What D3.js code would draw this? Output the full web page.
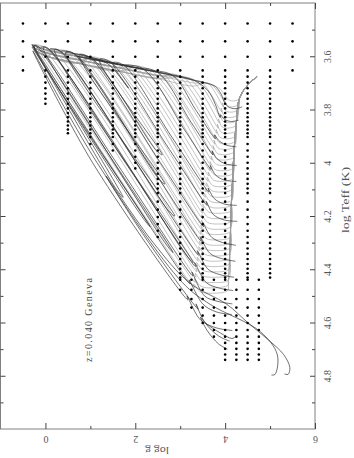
<!DOCTYPE html>
<html><head><meta charset="utf-8">
<script src="https://cdn.jsdelivr.net/npm/d3@7"></script>
<style>body{margin:0;background:#fff}svg{display:block}</style>
</head><body>
<script>
// ---- axis ticks ----
const teffMajor = [3.6, 3.8, 4.0, 4.2, 4.4, 4.6, 4.8];
const teffMinor = [3.5, 3.7, 3.9, 4.1, 4.3, 4.5, 4.7, 4.9];
const teffLabels = ["3.6", "3.8", "4", "4.2", "4.4", "4.6", "4.8"];
const loggMajor = [0, 2, 4, 6];
const loggMinor = [1, 3, 5];
const loggLabels = ["0", "2", "4", "6"];

// ---- model atmosphere grid (dots) ----
const gridLoggAll = [-0.5, 0, 0.5, 1, 1.5, 2, 2.5, 3, 3.5, 4, 4.5, 5, 5.5];
const gridTeffCool = [3000, 3500, 4000, 4500];
const gridLoggK = [0, 0.5, 1, 1.5, 2, 2.5, 3, 3.5, 4, 4.5, 5];
const gridTeffKMax = [6000, 7750, 8500, 9000, 10500, 19000, 27000, 27000, 27000, 27000, 27000];
const gridTeffK = [4750, 5000, 5250, 5500, 5750, 6000, 6250, 6500, 6750, 7000, 7250, 7500, 7750, 8000,
  8500, 9000, 9500, 10000, 10500, 11000, 11500, 12000, 12500, 13000, 14000, 15000, 16000, 17000,
  18000, 19000, 20000, 21000, 22000, 23000, 24000, 25000, 26000, 27000];
const gridTeffO = [27500, 30000, 32500, 35000, 37500, 40000, 42500, 45000, 47500, 50000, 52500, 55000];
const gridLoggOMin = [3.0, 3.0, 3.25, 3.25, 3.5, 3.5, 3.75, 3.75, 4.0, 4.0, 4.0, 4.0];
const gridLoggO = [3.0, 3.25, 3.5, 3.75, 4.0, 4.25, 4.5, 4.75];

// ---- isochrones (grey): shared MS ridge, turnoff parts, RGB ridges  [logTeff, log g] ----
const msRidge = [[3.677,4.71],[3.70,4.55],[3.752,4.33],[3.85,4.25],[3.95,4.20],[4.05,4.17],[4.15,4.14],[4.25,4.12],[4.35,4.10],[4.45,4.07],[4.55,4.03]];
const rgbRidgeA = [[3.71,3.75],[3.69,3.3],[3.66,2.5],[3.63,1.6],[3.60,0.7],[3.575,0.0],[3.557,-0.3]];
const rgbRidgeB = [[3.72,3.75],[3.70,3.3],[3.672,2.5],[3.642,1.6],[3.612,0.7],[3.586,0.0],[3.566,-0.28]];
const rgbRidgeC = [[3.73,3.75],[3.712,3.3],[3.684,2.5],[3.655,1.6],[3.625,0.7],[3.598,0.0],[3.575,-0.25]];
const iso376 = [[3.76,4.323],[3.768,4.19],[3.763,4.07],[3.745,3.99],[3.725,3.90],[3.71,3.75]];
const iso378 = [[3.78,4.307],[3.79,4.156],[3.784,4.039],[3.755,3.972],[3.77,3.992],[3.705,3.68]];
const iso380 = [[3.80,4.29],[3.81,4.133],[3.804,4.01],[3.775,3.94],[3.79,3.96],[3.70,3.60]];
const iso382 = [[3.82,4.274],[3.83,4.110],[3.824,3.982],[3.795,3.909],[3.81,3.929],[3.696,3.472]];
const iso384 = [[3.84,4.258],[3.85,4.087],[3.844,3.954],[3.815,3.878],[3.83,3.898],[3.691,3.342]];
const iso386 = [[3.86,4.245],[3.87,4.067],[3.864,3.929],[3.835,3.85],[3.85,3.87],[3.686,3.215]];
const iso388 = [[3.88,4.235],[3.89,4.05],[3.884,3.907],[3.855,3.825],[3.87,3.845],[3.682,3.092]];
const iso390 = [[3.90,4.225],[3.91,4.034],[3.904,3.885],[3.875,3.80],[3.89,3.82],[3.677,2.969]];
const iso392 = [[3.92,4.215],[3.93,4.017],[3.924,3.863],[3.895,3.775],[3.91,3.795],[3.673,2.846]];
const iso394 = [[3.94,4.205],[3.95,4.0],[3.944,3.841],[3.915,3.75],[3.93,3.77],[3.668,2.723]];
const iso396 = [[3.96,4.197],[3.97,3.985],[3.964,3.821],[3.935,3.727],[3.95,3.747],[3.664,2.602]];
const iso398 = [[3.98,4.191],[3.99,3.973],[3.984,3.803],[3.955,3.706],[3.97,3.726],[3.659,2.484]];
const iso400 = [[4.00,4.185],[4.01,3.96],[4.004,3.785],[3.975,3.685],[3.99,3.705],[3.655,2.365]];
const iso402 = [[4.02,4.179],[4.03,3.947],[4.024,3.767],[3.995,3.664],[4.01,3.684],[3.651,2.247]];
const iso404 = [[4.04,4.173],[4.05,3.934],[4.044,3.749],[4.015,3.643],[4.03,3.663],[3.646,2.128]];
const iso406 = [[4.06,4.167],[4.07,3.922],[4.064,3.731],[4.035,3.622],[4.05,3.642],[3.642,2.01]];
const iso408 = [[4.08,4.161],[4.09,3.909],[4.084,3.713],[4.055,3.601],[4.07,3.621],[3.638,1.891]];
const iso410 = [[4.10,4.155],[4.11,3.896],[4.104,3.695],[4.075,3.58],[4.09,3.60],[3.633,1.773]];
const iso412 = [[4.12,4.149],[4.13,3.884],[4.124,3.677],[4.095,3.559],[4.11,3.579],[3.629,1.655]];
const iso414 = [[4.14,4.143],[4.15,3.871],[4.144,3.659],[4.115,3.538],[4.13,3.558],[3.625,1.536]];
const iso416 = [[4.16,4.138],[4.17,3.859],[4.164,3.642],[4.135,3.518],[4.15,3.538],[3.620,1.419]];
const iso418 = [[4.18,4.134],[4.19,3.848],[4.184,3.626],[4.155,3.499],[4.17,3.519],[3.616,1.303]];
const iso420 = [[4.20,4.13],[4.21,3.837],[4.204,3.61],[4.175,3.48],[4.19,3.50],[3.612,1.187]];
const iso422 = [[4.22,4.126],[4.23,3.833],[4.224,3.606],[4.195,3.476],[4.21,3.496],[3.608,1.088]];
const iso424 = [[4.24,4.122],[4.25,3.83],[4.244,3.602],[4.215,3.472],[4.23,3.492],[3.604,0.99]];
const iso426 = [[4.26,4.118],[4.27,3.821],[4.264,3.59],[4.235,3.458],[4.25,3.478],[3.600,0.879]];
const iso428 = [[4.28,4.114],[4.29,3.813],[4.284,3.578],[4.255,3.444],[4.27,3.464],[3.596,0.769]];
const iso430 = [[4.30,4.11],[4.31,3.806],[4.304,3.57],[4.275,3.435],[4.29,3.455],[3.592,0.665]];
const iso432 = [[4.32,4.106],[4.33,3.80],[4.324,3.562],[4.295,3.426],[4.31,3.446],[3.589,0.56]];
const iso434 = [[4.34,4.102],[4.35,3.792],[4.344,3.55],[4.315,3.412],[4.33,3.432],[3.585,0.45]];
const iso436 = [[4.36,4.097],[4.37,3.782],[4.364,3.537],[4.335,3.397],[4.35,3.417],[3.580,0.339]];
const iso438 = [[4.38,4.091],[4.39,3.772],[4.384,3.523],[4.355,3.381],[4.37,3.401],[3.576,0.226]];
const iso440 = [[4.40,4.085],[4.41,3.761],[4.404,3.509],[4.375,3.365],[4.39,3.385],[3.572,0.114]];
const iso442 = [[4.42,4.079],[4.43,3.75],[4.424,3.495],[4.395,3.349],[4.41,3.369],[3.568,0.001]];
const iso444 = [[4.44,4.073],[4.45,3.74],[4.444,3.481],[4.415,3.333],[4.43,3.353],[3.564,-0.111]];
const iso446 = [[4.46,4.066],[4.47,3.729],[4.464,3.466],[4.435,3.316],[4.45,3.336],[3.560,-0.225]];
const iso448 = [[4.48,4.058],[4.49,3.716],[4.484,3.45],[4.455,3.298],[4.47,3.318],[3.557,-0.30]];

// ---- evolutionary tracks (dark) [logTeff, log g] ----
const track1_25 = [[3.79,4.38],[3.797,4.22],[3.79,4.07],[3.775,3.99],[3.745,3.92],[3.72,3.82],[3.71,3.75],[3.69,3.3],[3.66,2.5],[3.63,1.6],[3.60,0.7]];
const track1_5 = [[3.84,4.30],[3.845,4.12],[3.835,3.97],[3.82,3.90],[3.83,3.89],[3.78,3.78],[3.73,3.62],[3.69,3.30],[3.66,2.5],[3.63,1.6],[3.60,0.7]];
const track2 = [[3.94,4.25],[3.935,4.05],[3.92,3.88],[3.895,3.76],[3.91,3.78],[3.80,3.34],[3.672,2.83],[3.65,2.2],[3.62,1.4],[3.60,0.9]];
const track2_5 = [[4.01,4.26],[4.005,4.02],[3.985,3.82],[3.955,3.71],[3.97,3.73],[3.85,3.25],[3.66,2.49],[3.64,1.9],[3.61,1.1]];
const track3 = [[4.07,4.25],[4.065,3.98],[4.045,3.78],[4.01,3.67],[4.025,3.69],[3.88,3.11],[3.648,2.18],[3.63,1.6],[3.605,0.9]];
const track4 = [[4.16,4.26],[4.155,3.98],[4.135,3.76],[4.095,3.62],[4.11,3.64],[3.90,2.80],[3.632,1.73],[3.625,1.5],[3.72,1.85],[3.63,1.4],[3.60,0.9],[3.585,0.45]];
const track5 = [[4.22,4.27],[4.215,3.98],[4.195,3.74],[4.145,3.58],[4.16,3.60],[3.95,2.76],[3.621,1.44],[3.612,1.2],[3.97,2.6],[3.95,2.45],[3.61,1.05],[3.59,0.6]];
const track7 = [[4.31,4.24],[4.30,3.95],[4.28,3.70],[4.225,3.50],[4.24,3.52],[4.0,2.56],[3.604,0.98],[3.595,0.75],[4.08,2.66],[4.06,2.52],[3.59,0.62],[3.58,0.35]];
const track9 = [[4.37,4.23],[4.36,3.92],[4.34,3.66],[4.28,3.45],[4.295,3.47],[4.0,2.29],[3.592,0.66],[3.585,0.45],[4.2,2.88],[4.18,2.74],[3.58,0.31],[3.572,0.1]];
const track12 = [[4.43,4.20],[4.42,3.88],[4.40,3.62],[4.33,3.38],[4.345,3.40],[4.0,2.02],[3.581,0.34],[3.575,0.2],[4.375,3.29],[4.35,3.15],[3.57,0.04],[3.565,-0.1]];
const track15 = [[4.48,4.18],[4.47,3.85],[4.45,3.58],[4.375,3.32],[4.39,3.34],[4.0,1.78],[3.570,0.06],[3.566,-0.05],[4.337,2.84],[4.31,2.70],[3.562,-0.2],[3.559,-0.27]];
const track20 = [[4.53,4.16],[4.52,3.82],[4.50,3.54],[4.41,3.26],[4.425,3.28],[4.0,1.58],[3.562,-0.17],[3.56,-0.25],[4.24,2.33],[4.21,2.18],[3.565,-0.30]];
const track25 = [[4.57,4.15],[4.56,3.80],[4.53,3.50],[4.44,3.20],[4.455,3.22],[4.0,1.40],[3.56,-0.28],[4.13,1.73],[4.10,1.58],[3.557,-0.30]];
const track40 = [[4.63,4.16],[4.62,3.80],[4.59,3.45],[4.50,3.15],[4.515,3.17],[4.0,1.05],[3.58,-0.28],[4.0,1.15],[4.45,3.05],[4.532,3.667],[4.634,4.78],[4.72,5.16],[4.795,5.11],[4.797,5.03]];
const track60 = [[4.67,4.10],[4.65,3.85],[4.60,3.55],[4.53,3.35],[4.55,3.40],[4.30,2.30],[4.05,1.35],[4.30,2.40],[4.45,3.2],[4.532,4.04],[4.60,4.5],[4.671,5.0],[4.72,5.3],[4.769,5.44],[4.795,5.40],[4.793,5.32]];
const track85 = [[4.70,4.05],[4.68,3.85],[4.63,3.60],[4.58,3.45],[4.60,3.55],[4.64,3.90],[4.66,4.15],[4.655,4.22]];

const isochrones = [iso376, iso378, iso380, iso382, iso384, iso386, iso388, iso390, iso392, iso394,
  iso396, iso398, iso400, iso402, iso404, iso406, iso408, iso410, iso412, iso414, iso416, iso418,
  iso420, iso422, iso424, iso426, iso428, iso430, iso432, iso434, iso436, iso438, iso440, iso442,
  iso444, iso446, iso448];
const rgbRidges = [rgbRidgeA, rgbRidgeB, rgbRidgeC];
const tracks = [track1_25, track1_5, track2, track2_5, track3, track4, track5, track7, track9, track12, track15, track20, track25, track40, track60, track85];

// ---- drawing ----
const W = 354, H = 458;
const svg = d3.select("body").append("svg").attr("width", W).attr("height", H);
const x = d3.scaleLinear().domain([-1, 6]).range([0.5, 315]);
const y = d3.scaleLinear().domain([3.4, 5.0]).range([3, 429]);
const line = d3.line().x(p => x(p[1])).y(p => y(p[0])).curve(d3.curveCatmullRom.alpha(0.5));

// isochrones
const isoPaths = isochrones.map((iso, i) => {
  const t0 = iso[0][0];
  const join = iso[iso.length - 1];
  const ridge = rgbRidges[i % 3];
  return msRidge.filter(p => p[0] < t0).concat(iso, ridge.filter(p => p[1] < join[1] - 0.05));
});
svg.append("g").selectAll("path").data(isoPaths).join("path")
  .attr("d", line).attr("fill", "none").attr("stroke", "#9a9a9a").attr("stroke-width", 0.6);

// tracks
svg.append("g").selectAll("path").data(tracks).join("path")
  .attr("d", line).attr("fill", "none").attr("stroke", "#333").attr("stroke-width", 0.7);

// grid dots
const dots = [];
gridLoggAll.forEach(g => gridTeffCool.forEach(t => dots.push([g, t])));
gridLoggK.forEach((g, i) => gridTeffK.filter(t => t <= gridTeffKMax[i]).forEach(t => dots.push([g, t])));
gridTeffO.forEach((t, i) => gridLoggO.filter(g => g >= gridLoggOMin[i]).forEach(g => dots.push([g, t])));
svg.append("g").selectAll("circle").data(dots).join("circle")
  .attr("cx", d => x(d[0])).attr("cy", d => y(Math.log10(d[1]))).attr("r", 1.3).attr("fill", "#000");

// frame
svg.append("rect").attr("x", 0.5).attr("y", 3).attr("width", 314.5).attr("height", 426)
  .attr("fill", "none").attr("stroke", "#808080").attr("stroke-width", 1);

function styleAxis(g) { g.select(".domain").remove(); g.selectAll("line").attr("stroke", "#444"); }

// right axis (log Teff) with rotated labels
const gR = svg.append("g").attr("transform", "translate(315,0)")
  .call(d3.axisRight(y).tickValues(teffMajor).tickSizeInner(-5).tickSizeOuter(0).tickFormat((d, i) => teffLabels[i]));
styleAxis(gR);
gR.selectAll("text").attr("x", null).attr("dy", null)
  .attr("transform", "translate(12,0) rotate(-90)").attr("text-anchor", "middle")
  .attr("dominant-baseline", "central").attr("font-family", "Liberation Serif").attr("font-size", 10).attr("fill", "#555");
svg.append("g").attr("transform", "translate(315,0)")
  .call(d3.axisRight(y).tickValues(teffMinor).tickSizeInner(-3).tickSizeOuter(0).tickFormat("")).call(styleAxis);
// left axis ticks
svg.append("g").attr("transform", "translate(0.5,0)")
  .call(d3.axisLeft(y).tickValues(teffMajor).tickSizeInner(-5).tickSizeOuter(0).tickFormat("")).call(styleAxis);
svg.append("g").attr("transform", "translate(0.5,0)")
  .call(d3.axisLeft(y).tickValues(teffMinor).tickSizeInner(-3).tickSizeOuter(0).tickFormat("")).call(styleAxis);

// bottom axis (log g) with upside-down labels
const gB = svg.append("g").attr("transform", "translate(0,429)")
  .call(d3.axisBottom(x).tickValues(loggMajor).tickSizeInner(-6).tickSizeOuter(0).tickFormat((d, i) => loggLabels[i]));
styleAxis(gB);
gB.selectAll("text").attr("y", null).attr("dy", null)
  .attr("transform", "translate(0,10) rotate(180)").attr("text-anchor", "middle")
  .attr("dominant-baseline", "central").attr("font-family", "Liberation Serif").attr("font-size", 10).attr("fill", "#555");
svg.append("g").attr("transform", "translate(0,429)")
  .call(d3.axisBottom(x).tickValues(loggMinor).tickSizeInner(-3).tickSizeOuter(0).tickFormat("")).call(styleAxis);
// top axis ticks
svg.append("g").attr("transform", "translate(0,3)")
  .call(d3.axisTop(x).tickValues(loggMajor).tickSizeInner(-6).tickSizeOuter(0).tickFormat("")).call(styleAxis);
svg.append("g").attr("transform", "translate(0,3)")
  .call(d3.axisTop(x).tickValues(loggMinor).tickSizeInner(-3).tickSizeOuter(0).tickFormat("")).call(styleAxis);

// axis titles and annotation
svg.append("text").attr("transform", "translate(345,200) rotate(-90)")
  .attr("text-anchor", "middle").attr("dominant-baseline", "central")
  .attr("font-family", "Liberation Serif").attr("font-size", 11).attr("fill", "#555")
  .attr("textLength", 66).attr("lengthAdjust", "spacingAndGlyphs").text("log Teff (K)");
svg.append("text").attr("transform", "translate(157,451) rotate(180)")
  .attr("text-anchor", "middle").attr("dominant-baseline", "central")
  .attr("font-family", "Liberation Serif").attr("font-size", 11).attr("fill", "#555")
  .attr("textLength", 24).attr("lengthAdjust", "spacingAndGlyphs").text("log g");
svg.append("text").attr("transform", "translate(88,320) rotate(-90)")
  .attr("text-anchor", "middle").attr("dominant-baseline", "central")
  .attr("font-family", "Liberation Serif").attr("font-size", 10).attr("fill", "#444")
  .attr("textLength", 84).attr("lengthAdjust", "spacing").text("z=0.040 Geneva");
</script>
</body></html>
